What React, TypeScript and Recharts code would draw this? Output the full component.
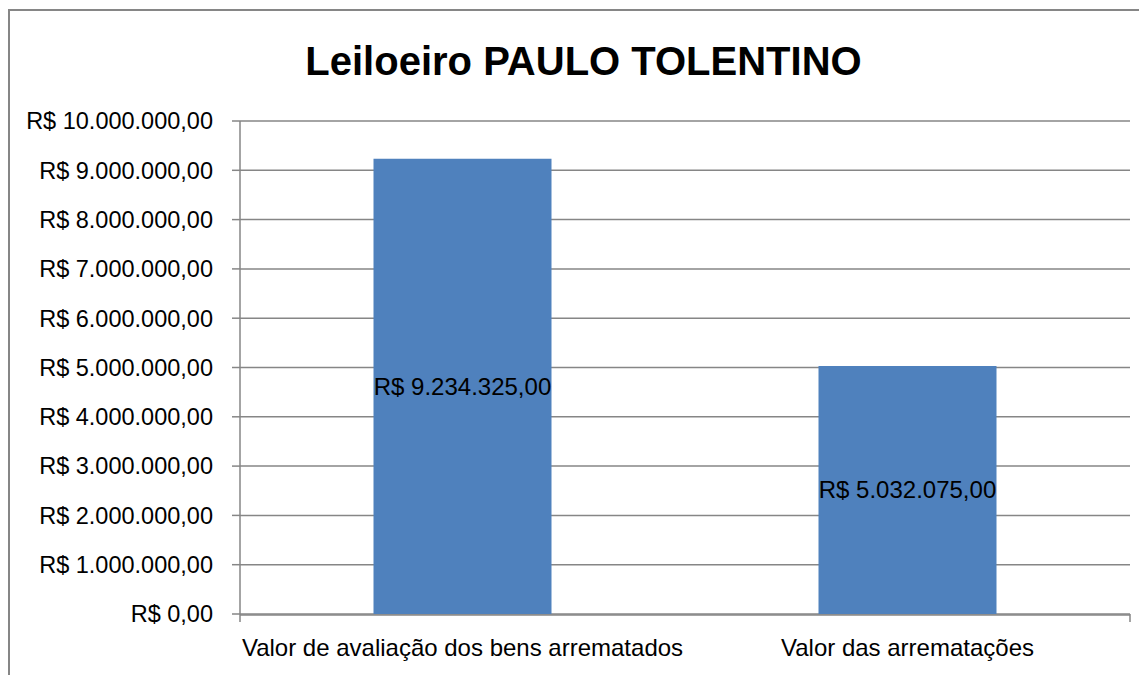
import React from 'react';
import { BarChart, Bar, XAxis, YAxis, CartesianGrid, LabelList } from 'recharts';

const categories = ['Valor de avaliação dos bens arrematados', 'Valor das arrematações'];
const values = [9234325, 5032075];
const yTicks = [0, 1000000, 2000000, 3000000, 4000000, 5000000, 6000000, 7000000, 8000000, 9000000, 10000000];
const title = 'Leiloeiro PAULO TOLENTINO';

const data = categories.map((name, i) => ({ name, value: values[i] }));

const brl = (v: number) => {
    const [int, dec] = v.toFixed(2).split('.');
    return 'R$ ' + int.replace(/\B(?=(\d{3})+(?!\d))/g, '.') + ',' + dec;
};

const FONT = '"Liberation Sans", Arial, sans-serif';
const GRID = '#868686';

const App: React.FC = () => {
    return (
        <div style={{ position: 'relative', width: 1139, height: 667, overflow: 'hidden', fontFamily: FONT }}>
            <div style={{
                position: 'absolute', left: 0, top: 1, width: 1200, height: 720,
                borderLeft: `2px solid ${GRID}`, borderTop: `2px solid ${GRID}`, boxSizing: 'border-box',
            }} />
            <div style={{
                position: 'absolute', left: 6, top: 33, width: 1139, textAlign: 'center',
                fontSize: 40, lineHeight: '40px', fontWeight: 'bold', color: '#000',
            }}>
                {title}
            </div>
            <div style={{ position: 'absolute', left: 0, top: 0 }}>
                <BarChart width={1139} height={667} data={data}
                    margin={{ top: 113, right: 17, bottom: 21, left: 0 }}
                    barCategoryGap="30%">
                    <CartesianGrid vertical={false} stroke={GRID} strokeWidth={1.5} />
                    <XAxis xAxisId="bounds" type="number" domain={[0, 2]} ticks={[0, 1, 2]}
                        allowDataOverflow height={1} tick={() => <g />} tickSize={8}
                        axisLine={false} tickLine={{ stroke: GRID, strokeWidth: 1.5 }} />
                    <XAxis xAxisId="cat" dataKey="name" height={39} tickSize={0} tickMargin={24}
                        axisLine={{ stroke: GRID, strokeWidth: 1.5 }} tickLine={false}
                        tick={{ fill: '#000', fontSize: 24, fontFamily: FONT }} interval={0} />
                    <YAxis domain={[0, 10000000]} ticks={yTicks} width={232} tickSize={8} tickMargin={19}
                        tickFormatter={brl} allowDataOverflow
                        axisLine={{ stroke: GRID, strokeWidth: 1.5 }} tickLine={{ stroke: GRID, strokeWidth: 1.5 }}
                        tick={{ fill: '#000', fontSize: 23.5, fontFamily: FONT }} />
                    <Bar xAxisId="cat" dataKey="value" fill="#4F81BD" isAnimationActive={false}>
                        <LabelList dataKey="value" position="center" formatter={(v: any) => brl(Number(v))}
                            style={{ fill: '#000', fontSize: 24, fontFamily: FONT }} />
                    </Bar>
                </BarChart>
            </div>
        </div>
    );
};

export default App;
